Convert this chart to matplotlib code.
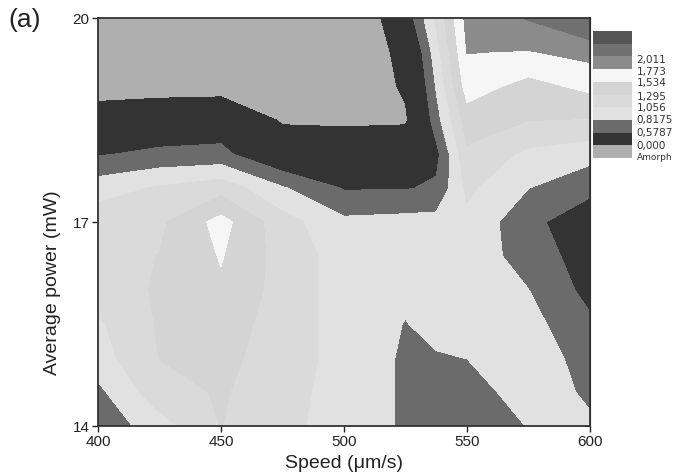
import numpy as np
import matplotlib
matplotlib.use("Agg")
import matplotlib.pyplot as plt

plt.rcParams['font.family'] = ['Liberation Sans', 'DejaVu Sans']

# grid of the map
speed = [400, 425, 450, 475, 500, 525, 537.5, 550, 575, 600]
power = [20, 19.5, 19, 18.5, 18, 17.5, 17, 16.5, 16, 15.5, 15, 14.5, 14]

# values, one list per speed column (power from 20 down to 14)
v400 = [-0.6, -0.4, -0.15, 0.18, 0.556, 0.95, 1.2, 1.22, 1.18, 1.02, 0.95, 0.76, 0.65]
v425 = [-0.6, -0.4, -0.2, 0.356, 0.634, 1.08, 1.25, 1.30, 1.32, 1.32, 1.30, 1.2, 0.95]
v450 = [-0.6, -0.4, -0.2, 0.425, 0.645, 1.2, 1.62, 1.55, 1.5, 1.4, 1.35, 1.32, 1.3]
v475 = [-0.6, -0.45, -0.3, -0.05, 0.307, 0.84, 1.15, 1.2, 1.2, 1.2, 1.2, 1.15, 1.12]
v500 = [-0.6, -0.45, -0.3, -0.07, 0.28, 0.56, 0.87, 0.95, 0.95, 0.95, 0.95, 0.95, 0.95]
v525 = [0.4, 0.15, 0.05, -0.05, 0.3, 0.56, 0.9, 0.9, 0.86, 0.81, 0.79, 0.79, 0.79]
v537 = [1.1, 0.95, 0.84, 0.72, 0.5, 0.62, 0.9, 0.92, 0.9, 0.88, 0.8, 0.7, 0.65]
v550 = [1.85, 1.78, 1.65, 1.41, 1.25, 1.1, 1.0, 0.95, 0.9, 0.87, 0.82, 0.7, 0.6]
v575 = [2.03, 1.76, 1.45, 1.3, 1.0, 0.82, 0.65, 0.72, 0.82, 0.9, 0.95, 0.94, 0.83]
v600 = [2.3, 1.85, 1.6, 1.28, 0.9, 0.65, 0.4, 0.45, 0.5, 0.62, 0.72, 0.78, 0.85]

levels = [-1, 0, 0.5787, 0.8175, 1.056, 1.295, 1.534, 1.773, 2.011, 2.5, 3.0]
colors = ['#afafaf', '#333333', '#6b6b6b', '#e1e1e1', '#dadada', '#d4d4d4',
          '#f6f6f6', '#8b8b8b', '#707070', '#555555']
labels = ['Amorph', '0,000', '0,5787', '0,8175', '1,056', '1,295', '1,534', '1,773', '2,011']

Z = np.column_stack([v400, v425, v450, v475, v500, v525, v537, v550, v575, v600])

fig = plt.figure(figsize=(6.84, 4.77), dpi=100)
ax = fig.add_axes([98/684, 50/477, 492/684, 408/477])
ax.contourf(speed, power, Z, levels=levels, colors=colors)

ax.set_xlim(400, 600)
ax.set_ylim(14, 20)
ax.set_xticks([400, 450, 500, 550, 600])
ax.set_yticks([14, 17, 20])
ax.tick_params(direction='out', length=4, width=1, labelsize=11, colors='#222222', pad=2)
for s in ax.spines.values():
    s.set_color('#333333')
    s.set_linewidth(1.3)

top = ax.secondary_xaxis('top')
top.set_xticks([400, 450, 500, 550, 600])
top.tick_params(direction='in', length=4, labeltop=False)
right = ax.secondary_yaxis('right')
right.set_yticks([14, 17, 20])
right.tick_params(direction='in', length=4, labelright=False)

ax.set_xlabel('Speed (\u03bcm/s)', fontsize=14, labelpad=4, color='#222222')
ax.set_ylabel('Average power (mW)', fontsize=14, color='#222222')
ax.yaxis.set_label_coords(-0.075, 0.353)
fig.text(0.012, 0.958, '(a)', fontsize=19, va='center', color='#222222')

# legend: stacked colour patches with level labels
cax = fig.add_axes([593/684, 1 - 159/477, 39/684, 127/477])
for i, c in enumerate(colors):
    cax.bar(0.5, 1, bottom=i, width=1, color=c)
cax.set_xlim(0, 1)
cax.set_ylim(0, len(colors))
cax.axis('off')
label_pos = [0.12, 1.0, 2.05, 3.1, 4.0, 4.9, 5.98, 6.87, 7.8]
for lab, yp in zip(labels, label_pos):
    cax.text(1.12, yp, lab, fontsize=6.5 if lab == 'Amorph' else 7.5,
             family='DejaVu Sans', va='center', ha='left', color='#333333')

fig.savefig('out.png', dpi=100)
